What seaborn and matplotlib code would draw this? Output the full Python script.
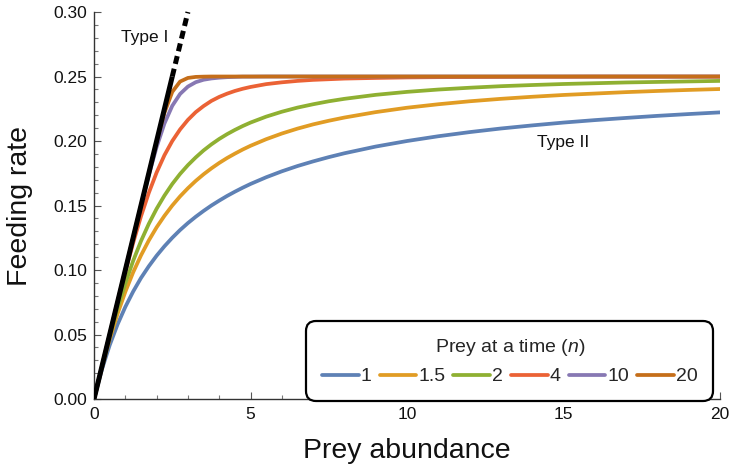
import numpy as np
import pandas as pd
import matplotlib
matplotlib.use("Agg")
import matplotlib.pyplot as plt
from matplotlib.ticker import MultipleLocator, FormatStrFormatter
import seaborn as sns

# prey abundance (x) and feeding rate for each n
prey = [0, 0.25, 0.5, 0.75, 1, 1.25, 1.5, 1.75, 2, 2.25, 2.5, 2.75, 3, 3.25, 3.5,
        3.75, 4, 4.25, 4.5, 4.75, 5, 5.5, 6, 6.5, 7, 7.5, 8, 9, 10, 11, 12, 13, 14,
        15, 16, 17, 18, 19, 20]
n_1 = [0, 0.0227, 0.0417, 0.0577, 0.0714, 0.0833, 0.0938, 0.1029, 0.1111, 0.1184,
       0.125, 0.131, 0.1364, 0.1413, 0.1458, 0.15, 0.1538, 0.1574, 0.1607, 0.1638,
       0.1667, 0.1719, 0.1765, 0.1806, 0.1842, 0.1875, 0.1905, 0.1957, 0.2, 0.2037,
       0.2069, 0.2097, 0.2121, 0.2143, 0.2162, 0.2179, 0.2195, 0.2209, 0.2222]
n_15 = [0, 0.0243, 0.0464, 0.0659, 0.0831, 0.0982, 0.1113, 0.1229, 0.1331, 0.142,
        0.15, 0.1571, 0.1634, 0.1691, 0.1742, 0.1788, 0.183, 0.1868, 0.1902, 0.1934,
        0.1963, 0.2014, 0.2058, 0.2096, 0.2129, 0.2157, 0.2182, 0.2224, 0.2258, 0.2285,
        0.2308, 0.2327, 0.2343, 0.2357, 0.2368, 0.2379, 0.2388, 0.2396, 0.2403]
n_2 = [0, 0.0248, 0.0484, 0.0701, 0.0897, 0.1071, 0.1224, 0.1358, 0.1475, 0.1577,
       0.1667, 0.1745, 0.1813, 0.1873, 0.1927, 0.1974, 0.2016, 0.2053, 0.2086, 0.2116,
       0.2143, 0.2189, 0.2227, 0.2259, 0.2285, 0.2308, 0.2327, 0.2358, 0.2381, 0.2399,
       0.2413, 0.2425, 0.2434, 0.2442, 0.2448, 0.2454, 0.2458, 0.2462, 0.2466]
n_4 = [0, 0.025, 0.0499, 0.0746, 0.0985, 0.121, 0.1416, 0.1598, 0.1756, 0.189,
       0.2, 0.209, 0.2164, 0.2224, 0.2271, 0.2311, 0.2342, 0.2367, 0.2388, 0.2405,
       0.2419, 0.2441, 0.2455, 0.2466, 0.2474, 0.2479, 0.2484, 0.2489, 0.2493, 0.2495,
       0.2496, 0.2497, 0.2498, 0.2498, 0.2499, 0.2499, 0.2499, 0.2499, 0.2499]
n_10 = [0, 0.025, 0.05, 0.075, 0.1, 0.1249, 0.1496, 0.1735, 0.1953, 0.2136,
        0.2273, 0.2365, 0.2422, 0.2456, 0.2475, 0.2485, 0.2491, 0.2495, 0.2497, 0.2499,
        0.2499, 0.25, 0.25, 0.25, 0.25, 0.25, 0.25, 0.25, 0.25, 0.25,
        0.25, 0.25, 0.25, 0.25, 0.25, 0.25, 0.25, 0.25, 0.25]
n_20 = [0, 0.025, 0.05, 0.075, 0.1, 0.125, 0.15, 0.175, 0.1995, 0.2219,
        0.2381, 0.2461, 0.2489, 0.2497, 0.2499, 0.25, 0.25, 0.25, 0.25, 0.25,
        0.25, 0.25, 0.25, 0.25, 0.25, 0.25, 0.25, 0.25, 0.25, 0.25,
        0.25, 0.25, 0.25, 0.25, 0.25, 0.25, 0.25, 0.25, 0.25]
n_labels = ["1", "1.5", "2", "4", "10", "20"]

# type I line
type1_x = [0, 2.5]
type1_y = [0, 0.25]
type1_dash_x = [2.5, 3]
type1_dash_y = [0.25, 0.30]

colors = ["#5E81B5", "#E19C24", "#8FB032", "#EB6235", "#8778B3", "#C56E1A"]

rows = []
for lab, ys in zip(n_labels, [n_1, n_15, n_2, n_4, n_10, n_20]):
    for x, y in zip(prey, ys):
        rows.append((x, y, lab))
df = pd.DataFrame(rows, columns=["prey", "rate", "n"])

sns.set_style("ticks")
plt.rcParams["font.family"] = ["Liberation Sans", "DejaVu Sans"]
plt.rcParams["mathtext.fontset"] = "custom"
plt.rcParams["mathtext.rm"] = "Liberation Sans"
plt.rcParams["mathtext.it"] = "Liberation Sans:italic"

fig = plt.figure(figsize=(7.3, 4.75), dpi=100)
ax = fig.add_axes([0.1288, 0.16, 0.8575, 0.8147])

sns.lineplot(data=df, x="prey", y="rate", hue="n", hue_order=n_labels,
             palette=colors, linewidth=2.7, ax=ax, legend="full", sort=False)

ax.plot(type1_x, type1_y, color="black", lw=3.6, zorder=5, solid_capstyle="butt")
ax.plot(type1_dash_x, type1_dash_y, color="black", lw=3.6, zorder=5,
        dashes=(1.6, 1.0), clip_on=False)

ax.text(1.63, 0.280, "Type I", fontsize=12.5, ha="center", va="center", color="#111")
ax.text(15.0, 0.199, "Type II", fontsize=12.5, ha="center", va="center", color="#111")

ax.set_xlim(0, 20)
ax.set_ylim(0, 0.30)
ax.xaxis.set_major_locator(MultipleLocator(5))
ax.xaxis.set_minor_locator(MultipleLocator(1))
ax.yaxis.set_major_locator(MultipleLocator(0.05))
ax.yaxis.set_minor_locator(MultipleLocator(0.01))
ax.yaxis.set_major_formatter(FormatStrFormatter("%.2f"))
ax.tick_params(which="major", direction="in", length=5, width=0.8, color="#555",
               labelsize=12.5, labelcolor="#111", pad=5)
ax.tick_params(which="minor", direction="in", length=3, width=0.8, color="#777")
ax.tick_params(axis="x", which="major", pad=6)

sns.despine(ax=ax)
for s in ["left", "bottom"]:
    ax.spines[s].set_color("#333")
    ax.spines[s].set_linewidth(1.0)

ax.set_xlabel("Prey abundance", fontsize=20.5, color="#111")
ax.set_ylabel("Feeding rate", fontsize=20.5, color="#111")
ax.xaxis.set_label_coords(0.5, -0.10)
ax.yaxis.set_label_coords(-0.097, 0.5)

handles, labels = ax.get_legend_handles_labels()
leg = ax.legend(handles, labels, ncol=6, title=r"Prey at a time ($\mathit{n}$)",
                fontsize=14, title_fontsize=14, loc="lower right",
                bbox_to_anchor=(0.989, -0.005), borderaxespad=0,
                handlelength=1.9, handletextpad=0.1, columnspacing=0.4,
                borderpad=0.8, frameon=True, fancybox=True)
frame = leg.get_frame()
frame.set_edgecolor("black")
frame.set_linewidth(1.6)
frame.set_facecolor("white")
frame.set_alpha(1)
frame.set_boxstyle("round", pad=0, rounding_size=0.5)
leg.set_zorder(10)
for h in leg.legend_handles:
    h.set_linewidth(2.7)

fig.savefig("out.png", dpi=100)
